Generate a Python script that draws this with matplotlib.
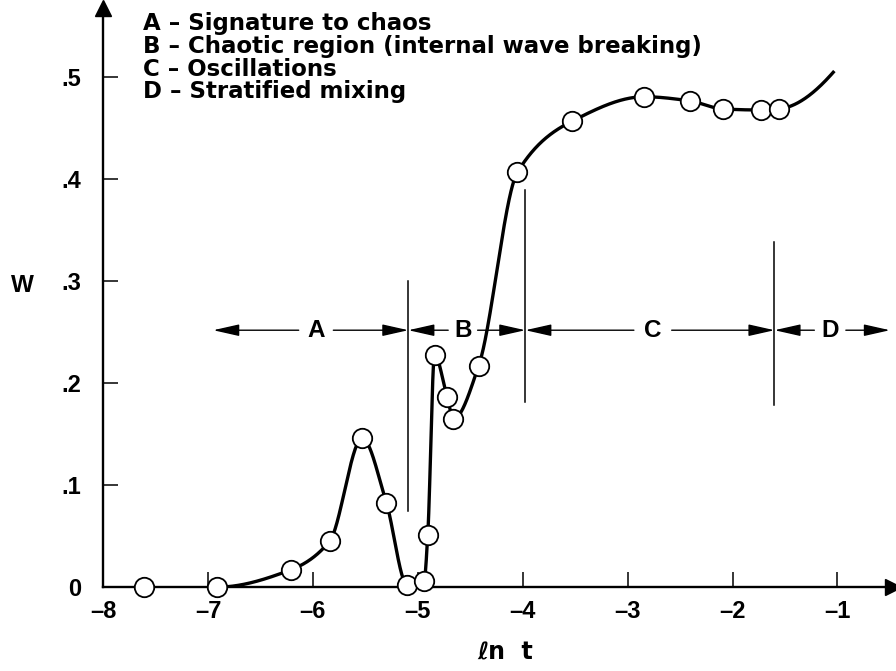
import numpy as np
import matplotlib
matplotlib.use("Agg")
import matplotlib.pyplot as plt

plt.rcParams['font.family'] = ['Liberation Sans', 'DejaVu Sans']
plt.rcParams['font.weight'] = 'bold'

# measured points (ln t, W)
ln_t = [-7.61, -6.91, -6.21, -5.84, -5.53, -5.30, -5.10, -4.94, -4.905,
        -4.84, -4.72, -4.66, -4.42, -4.05, -3.53, -2.84, -2.41, -2.09,
        -1.73, -1.56]
w_val = [0.0, 0.0, 0.017, 0.045, 0.146, 0.083, 0.002, 0.006, 0.051,
         0.228, 0.186, 0.165, 0.217, 0.407, 0.457, 0.481, 0.477, 0.469,
         0.468, 0.469]

# faired curve: starts at the second point, runs on past the last one
curve_start = 1
curve_end_x = -1.04
curve_end_w = 0.505

# regime boundaries and labels
bounds = [-6.95, -5.09, -3.975, -1.60, -0.50]
bound_lines = [(-5.09, 0.075, 0.300), (-3.975, 0.182, 0.390), (-1.60, 0.179, 0.339)]
regimes = ['A', 'B', 'C', 'D']
regime_x = [-5.97, -4.57, -2.76, -1.07]
regime_gap = [0.165, 0.14, 0.18, 0.15]
regime_w = 0.252

legend_lines = ["A \u2013 Signature to chaos",
                "B \u2013 Chaotic region (internal wave breaking)",
                "C \u2013 Oscillations",
                "D \u2013 Stratified mixing"]

x_ticks = [-8, -7, -6, -5, -4, -3, -2, -1]
y_ticks = [0, 0.1, 0.2, 0.3, 0.4, 0.5]
y_tick_labels = ['0', '.1', '.2', '.3', '.4', '.5']


def pchip(x, y, xs):
    x = np.asarray(x, float)
    y = np.asarray(y, float)
    h = np.diff(x)
    delta = np.diff(y) / h
    n = len(x)
    d = np.zeros(n)
    for k in range(1, n - 1):
        if delta[k - 1] * delta[k] > 0:
            w1 = 2 * h[k] + h[k - 1]
            w2 = h[k] + 2 * h[k - 1]
            d[k] = (w1 + w2) / (w1 / delta[k - 1] + w2 / delta[k])
    d[0] = ((2 * h[0] + h[1]) * delta[0] - h[0] * delta[1]) / (h[0] + h[1])
    if np.sign(d[0]) != np.sign(delta[0]):
        d[0] = 0
    d[-1] = ((2 * h[-1] + h[-2]) * delta[-1] - h[-1] * delta[-2]) / (h[-1] + h[-2])
    if np.sign(d[-1]) != np.sign(delta[-1]):
        d[-1] = 0
    idx = np.clip(np.searchsorted(x, xs) - 1, 0, n - 2)
    t = (xs - x[idx]) / h[idx]
    h00 = 2 * t**3 - 3 * t**2 + 1
    h10 = t**3 - 2 * t**2 + t
    h01 = -2 * t**3 + 3 * t**2
    h11 = t**3 - t**2
    return (h00 * y[idx] + h10 * h[idx] * d[idx]
            + h01 * y[idx + 1] + h11 * h[idx] * d[idx + 1])


fig = plt.figure(figsize=(8.96, 6.71), dpi=100)
ax = fig.add_axes([0.115, 0.125, 0.8817, 0.863])
ax.set_xlim(-8, -0.47)
ax.set_ylim(0, 0.568)

for s in ['top', 'right']:
    ax.spines[s].set_visible(False)
for s in ['left', 'bottom']:
    ax.spines[s].set_linewidth(1.7)

# axis arrowheads
ax.plot(1, 0, '>', color='black', markersize=12, transform=ax.transAxes, clip_on=False)
ax.plot(0, 1, '^', color='black', markersize=12, transform=ax.transAxes, clip_on=False)

cx = np.array(ln_t[curve_start:] + [curve_end_x])
cw = np.array(w_val[curve_start:] + [curve_end_w])
xs = np.linspace(cx[0], cx[-1], 2000)
ax.plot(xs, pchip(cx, cw, xs), color='black', lw=2.4, zorder=3)

ax.plot(ln_t, w_val, 'o', ms=14, mfc='white', mec='black', mew=1.3,
        zorder=4, clip_on=False)

for bx, y0, y1 in bound_lines:
    ax.plot([bx, bx], [y0, y1], color='black', lw=1.1)

head = dict(arrowstyle='-|>,head_length=0.8,head_width=0.18', lw=1.0,
            color='black', mutation_scale=20, shrinkA=0, shrinkB=0)
for i, lab in enumerate(regimes):
    left, right = bounds[i], bounds[i + 1]
    cxl = regime_x[i]
    g = regime_gap[i]
    ax.text(cxl, regime_w, lab, ha='center', va='center', fontsize=17.5,
            fontweight='bold')
    ax.annotate('', xy=(left, regime_w), xytext=(cxl - g, regime_w),
                arrowprops=head)
    ax.annotate('', xy=(right, regime_w), xytext=(cxl + g, regime_w),
                arrowprops=head)

for j, line in enumerate(legend_lines):
    ax.text(-7.62, 0.553 - 0.0224 * j, line, ha='left', va='center',
            fontsize=16.5, fontweight='bold', family=['DejaVu Sans'])

ax.set_xticks(x_ticks)
ax.set_xticklabels([f'\u2013{abs(v)}' for v in x_ticks])
ax.set_yticks(y_ticks)
ax.set_yticklabels(y_tick_labels)
ax.tick_params(axis='both', direction='in', length=11, width=1.1,
               labelsize=17)
ax.tick_params(axis='x', pad=9)
ax.tick_params(axis='y', pad=16)
for lbl in ax.get_xticklabels() + ax.get_yticklabels():
    lbl.set_fontweight('bold')

ax.text(-8.77, 0.296, 'W', ha='center', va='center', fontsize=17.5,
        fontweight='bold')
ax.text(-4.17, -0.064, '\u2113n  t', ha='center', va='center', fontsize=17,
        fontweight='bold', family=['DejaVu Sans'])

fig.savefig('out.png', dpi=100)
